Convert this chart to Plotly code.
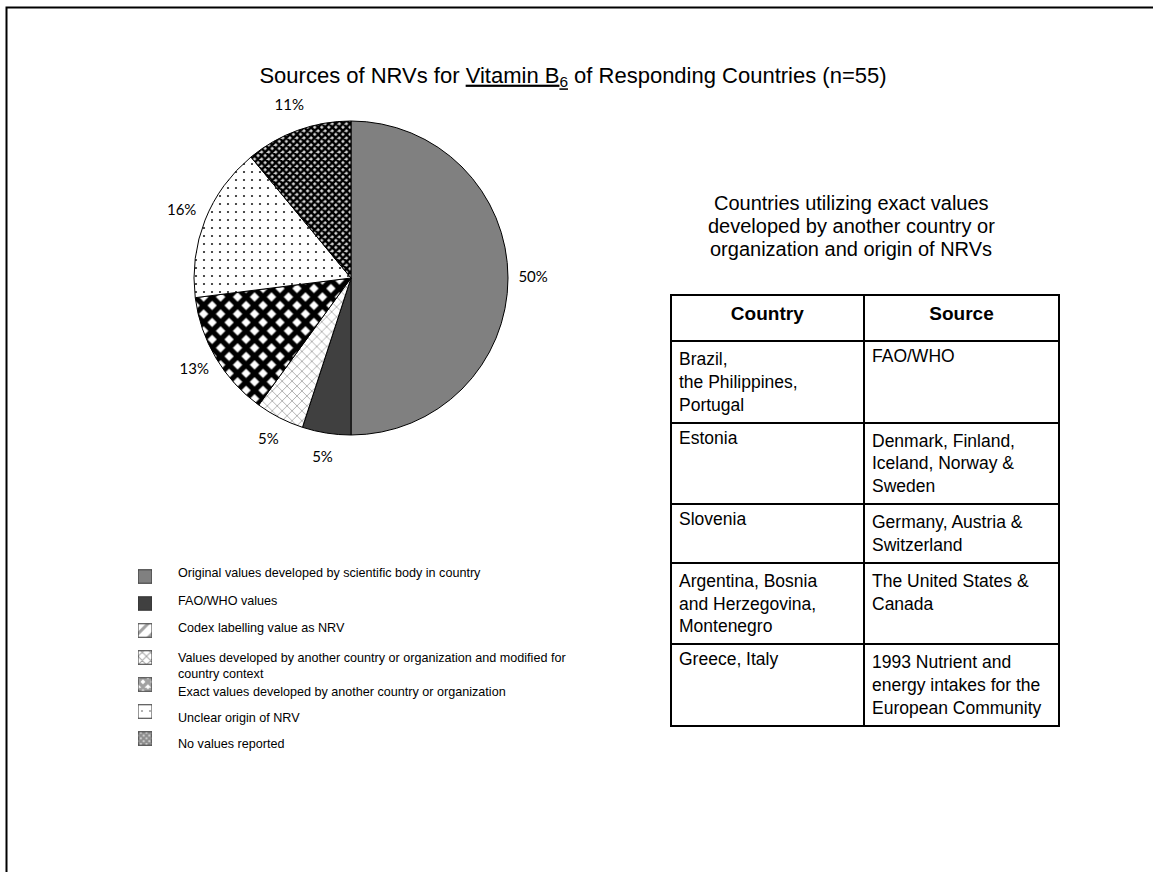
import math
import plotly.graph_objects as go

# ---- data -------------------------------------------------------------
categories = [
    "Original values developed by scientific body in country",
    "FAO/WHO values",
    "Codex labelling value as NRV",
    "Values developed by another country or organization and modified for<br>country context",
    "Exact values developed by another country or organization",
    "Unclear origin of NRV",
    "No values reported",
]
# share of responding countries (%), in the same order as categories
shares = [50, 5, 0, 5, 13, 16, 11]

table_countries = [
    "Brazil,<br>the Philippines,<br>Portugal",
    "Estonia",
    "Slovenia",
    "Argentina, Bosnia<br>and Herzegovina,<br>Montenegro",
    "Greece, Italy",
]
table_sources = [
    "FAO/WHO",
    "Denmark, Finland,<br>Iceland, Norway &<br>Sweden",
    "Germany, Austria &<br>Switzerland",
    "The United States &<br>Canada",
    "1993 Nutrient and<br>energy intakes for the<br>European Community",
]
table_header = ["<b>Country</b>", "<b>Source</b>"]

subtitle_lines = [
    "Countries utilizing exact values",
    "developed by another country or",
    "organization and origin of NRVs",
]

# ---- fill styles per category -----------------------------------------
shape_ = ["", "", "/", "x", "x", ".", "x"]
fg_ = ["#808080", "#404040", "#bdbdbd", "#8c8c8c", "#000000", "#222222", "#000000"]
bg_ = ["#808080", "#404040", "#ffffff", "#ffffff", "#ffffff", "#ffffff", "#d4d4d4"]
psize = [8, 8, 10, 7, 12, 8, 5]
psolid = [0.3, 0.3, 0.3, 0.18, 0.7, 0.06, 0.72]
# swatch-sized variants for the key
key_fg = ["#808080", "#404040", "#bdbdbd", "#404040", "#000000", "#000000", "#000000"]
key_size = [8, 8, 10, 6, 7, 8, 4]
key_solid = [0.3, 0.3, 0.3, 0.3, 0.75, 0.06, 0.75]

W, H = 1153, 872
FONT = "Liberation Sans, Arial, sans-serif"

# pie geometry (pixels)
PIE_CX, PIE_CY, PIE_R = 351, 278, 157
LABEL_SPAN = 1.35  # label axes reach this many radii from the centre


def px_x(v):
    return v / W


def px_y(v):
    return 1 - v / H


fig = go.Figure()

# ---- pie (slices with a non-zero share) -------------------------------
idx = [i for i, v in enumerate(shares) if v > 0]
pie_vals = [shares[i] for i in idx]
pie_dom = dict(x=[px_x(PIE_CX - PIE_R), px_x(PIE_CX + PIE_R)],
               y=[px_y(PIE_CY + PIE_R), px_y(PIE_CY - PIE_R)])
fig.add_trace(go.Pie(
    values=pie_vals,
    labels=[categories[i] for i in idx],
    sort=False,
    direction="clockwise",
    rotation=0,
    textinfo="none",
    marker=dict(
        colors=[bg_[i] for i in idx],
        line=dict(color="#000000", width=1),
        pattern=dict(
            shape=[shape_[i] for i in idx],
            fgcolor=[fg_[i] for i in idx],
            bgcolor=[bg_[i] for i in idx],
            size=[psize[i] for i in idx],
            solidity=[psolid[i] for i in idx],
        ),
    ),
    domain=pie_dom,
    showlegend=False,
    hoverinfo="skip",
))

# percentage labels just outside each slice, at the slice's middle angle
total = sum(pie_vals)
lab_r = 1.16
lx, ly, lt = [], [], []
cum = 0
for v in pie_vals:
    ang = 2 * math.pi * (cum + v / 2) / total
    lx.append(lab_r * math.sin(ang))
    ly.append(lab_r * math.cos(ang))
    lt.append(f"{v}%")
    cum += v
fig.add_trace(go.Scatter(
    x=lx, y=ly, text=lt, mode="text", textposition="middle center",
    textfont=dict(family="Lato, sans-serif", size=15, color="#000000"),
    xaxis="x2", yaxis="y2", showlegend=False, hoverinfo="skip",
))
span_px = LABEL_SPAN * PIE_R
lab_dom_x = [px_x(PIE_CX - span_px), px_x(PIE_CX + span_px)]
lab_dom_y = [px_y(PIE_CY + span_px), px_y(PIE_CY - span_px)]

# ---- key swatches drawn as tiny bars ----------------------------------
rows = list(range(len(categories)))
fig.add_trace(go.Bar(
    x=[1] * len(categories),
    y=rows,
    orientation="h",
    width=0.5,
    marker=dict(
        color=bg_,
        line=dict(color="#333333", width=1),
        pattern=dict(shape=shape_, fgcolor=key_fg, bgcolor=bg_,
                     size=key_size, solidity=key_solid),
    ),
    showlegend=False,
    hoverinfo="skip",
    xaxis="x", yaxis="y",
))

row_shift = [4, 3, 3, -8, -7, -6, -5]
annotations = []
for i, label in enumerate(categories):
    annotations.append(dict(
        x=px_x(176), xref="paper", xanchor="left",
        y=i, yref="y", yanchor="middle", yshift=row_shift[i],
        text=label, showarrow=False, align="left",
        font=dict(family=FONT, size=12.6, color="#000000"),
    ))

# ---- right-hand heading -----------------------------------------------
for k, line in enumerate(subtitle_lines):
    annotations.append(dict(
        x=px_x(851), xref="paper", xanchor="center",
        y=px_y(203 + 23 * k), yref="paper", yanchor="middle",
        text=line, showarrow=False,
        font=dict(family=FONT, size=20, color="#000000"),
    ))

# ---- table --------------------------------------------------------------
fig.add_trace(go.Table(
    domain=dict(x=[px_x(671), px_x(1059)], y=[0.05, px_y(295)]),
    columnwidth=[193, 195],
    header=dict(
        values=table_header,
        align="center",
        height=46,
        font=dict(family=FONT, size=19, color="#000000"),
        fill=dict(color="#ffffff"),
        line=dict(color="#000000", width=2),
    ),
    cells=dict(
        values=[table_countries, table_sources],
        align="left",
        height=30,
        font=dict(family=FONT, size=17.5, color="#000000"),
        fill=dict(color="#ffffff"),
        line=dict(color="#000000", width=2),
    ),
))

fig.update_layout(
    width=W, height=H,
    margin=dict(l=0, r=0, t=0, b=0),
    paper_bgcolor="#ffffff",
    plot_bgcolor="rgba(0,0,0,0)",
    title=dict(
        text="Sources of NRVs for <u>Vitamin B<sub>6</sub></u> of Responding Countries (n=55)",
        x=px_x(573), xanchor="center",
        y=px_y(75), yref="container", yanchor="middle",
        font=dict(family=FONT, size=22, color="#000000"),
    ),
    xaxis=dict(domain=[px_x(138), px_x(152)], range=[0, 1], visible=False, fixedrange=True),
    yaxis=dict(domain=[px_y(752), px_y(563)], range=[6.5, -0.5], visible=False, fixedrange=True),
    xaxis2=dict(domain=lab_dom_x, range=[-LABEL_SPAN, LABEL_SPAN], visible=False, fixedrange=True),
    yaxis2=dict(domain=lab_dom_y, range=[-LABEL_SPAN, LABEL_SPAN], visible=False, fixedrange=True),
    annotations=annotations,
    shapes=[dict(
        type="rect", xref="paper", yref="paper",
        x0=px_x(6.5), x1=1.05, y0=-0.05, y1=px_y(7.5),
        line=dict(color="#000000", width=2),
    )],
)

fig.write_html("out.html")
